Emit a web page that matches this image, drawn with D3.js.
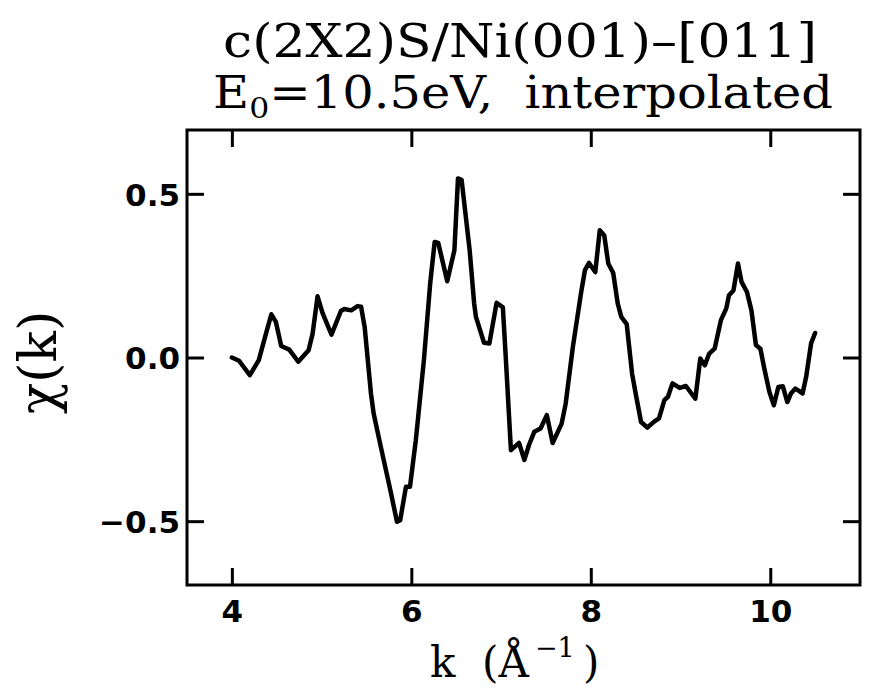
<!DOCTYPE html>
<html>
<head>
<meta charset="utf-8">
<script src="https://cdn.jsdelivr.net/npm/d3@7"></script>
<style>
    body { margin: 0; background: #fff; }
</style>
</head>
<body>
<div id="div1"></div>
<script>
//The k values (1/Angstrom).
var kValues = [4.00, 4.08, 4.20, 4.30, 4.38, 4.44, 4.49, 4.55, 4.64, 4.74,
    4.855, 4.90, 4.955, 5.01, 5.11, 5.215, 5.25, 5.33, 5.40, 5.44,
    5.48, 5.55, 5.58, 5.66, 5.77, 5.84, 5.876, 5.94, 5.985, 6.05,
    6.14, 6.21, 6.26, 6.30, 6.40, 6.48, 6.52, 6.56, 6.65, 6.70,
    6.72, 6.81, 6.87, 6.95, 7.02, 7.05, 7.11, 7.20, 7.26, 7.31,
    7.37, 7.44, 7.51, 7.575, 7.675, 7.72, 7.80, 7.89, 7.935, 7.98,
    8.05, 8.10, 8.15, 8.195, 8.25, 8.30, 8.34, 8.40, 8.46, 8.50,
    8.56, 8.63, 8.71, 8.76, 8.82, 8.86, 8.91, 8.99, 9.06, 9.165,
    9.22, 9.27, 9.32, 9.38, 9.45, 9.51, 9.54, 9.59, 9.64, 9.68,
    9.74, 9.79, 9.84, 9.89, 9.93, 9.99, 10.04, 10.09, 10.14, 10.19,
    10.23, 10.28, 10.32, 10.36, 10.40, 10.455, 10.50];

//The chi(k) values, one for each k.
var chiValues = [0.00, -0.01, -0.054, -0.008, 0.073, 0.132, 0.109, 0.035, 0.024, -0.013,
    0.022, 0.073, 0.187, 0.136, 0.070, 0.142, 0.148, 0.144, 0.157, 0.155,
    0.093, -0.110, -0.171, -0.273, -0.410, -0.502, -0.497, -0.395, -0.395, -0.253,
    -0.008, 0.226, 0.353, 0.350, 0.233, 0.328, 0.547, 0.543, 0.328, 0.165,
    0.124, 0.045, 0.043, 0.167, 0.153, 0.012, -0.283, -0.261, -0.313, -0.268,
    -0.227, -0.217, -0.176, -0.261, -0.202, -0.141, 0.032, 0.195, 0.267, 0.289,
    0.261, 0.389, 0.373, 0.287, 0.258, 0.165, 0.124, 0.102, -0.049, -0.110,
    -0.197, -0.214, -0.195, -0.186, -0.130, -0.120, -0.079, -0.093, -0.087, -0.126,
    -0.003, -0.024, 0.012, 0.027, 0.114, 0.150, 0.190, 0.205, 0.287, 0.231,
    0.200, 0.144, 0.038, 0.027, -0.029, -0.105, -0.146, -0.090, -0.088, -0.136,
    -0.110, -0.095, -0.102, -0.110, -0.059, 0.043, 0.075];

//Tick values for both axes.
var xTicks = [4, 6, 8, 10];
var yTicks = [-0.5, 0.0, 0.5];

window.onload = function () {

    var width = 882;
    var height = 689;

    //Edges of the plot frame.
    var left = 187, right = 860, top = 130, bottom = 585;

    var svg = d3.select("#div1").append("svg")
            .attr("width", width).attr("height", height);

    var x = d3.scaleLinear().domain([3.5, 11.0]).range([left, right]);
    var y = d3.scaleLinear().domain([-0.695, 0.695]).range([bottom, top]);

    var tickLen = 17;
    var serif = "'DejaVu Serif', serif";
    var sans = "'DejaVu Sans', sans-serif";

    //Ticks on all four sides, pointing inward.
    var bottomAxis = svg.append("g").attr("transform", "translate(0," + bottom + ")")
            .call(d3.axisBottom(x).tickValues(xTicks).tickSize(-tickLen).tickPadding(12)
                .tickFormat(d3.format("d")));
    var topAxis = svg.append("g").attr("transform", "translate(0," + top + ")")
            .call(d3.axisTop(x).tickValues(xTicks).tickSize(-tickLen).tickFormat(""));
    var leftAxis = svg.append("g").attr("transform", "translate(" + left + ",0)")
            .call(d3.axisLeft(y).tickValues(yTicks).tickSize(-tickLen).tickPadding(7)
                .tickFormat(d3.format(".1f")));
    var rightAxis = svg.append("g").attr("transform", "translate(" + right + ",0)")
            .call(d3.axisRight(y).tickValues(yTicks).tickSize(-tickLen).tickFormat(""));

    svg.selectAll(".domain").remove();
    svg.selectAll(".tick line").attr("stroke", "#000").attr("stroke-width", 3);
    svg.selectAll(".tick text").attr("fill", "#000")
            .style("font-family", sans).style("font-size", "31px").style("font-weight", "bold");
    bottomAxis.selectAll(".tick text").attr("dy", "0.82em");
    leftAxis.selectAll(".tick text").attr("dy", "0.36em");

    //The frame.
    svg.append("rect").attr("x", left).attr("y", top)
            .attr("width", right - left).attr("height", bottom - top)
            .attr("fill", "none").attr("stroke", "#000").attr("stroke-width", 3);

    //The curve.
    var line = d3.line()
            .x(function (d, i) { return x(kValues[i]); })
            .y(function (d) { return y(d); });

    svg.append("path").datum(chiValues)
            .attr("fill", "none").attr("stroke", "#000").attr("stroke-width", 4.5)
            .attr("stroke-linejoin", "round").attr("stroke-linecap", "round")
            .attr("d", line);

    //Title, two lines.
    svg.append("text").attr("x", 223).attr("y", 57)
            .attr("textLength", 594).attr("lengthAdjust", "spacingAndGlyphs")
            .style("font-family", serif).style("font-size", "46px")
            .text("c(2X2)S/Ni(001)\u2013[011]");

    var t2 = svg.append("text").attr("x", 213).attr("y", 108)
            .attr("textLength", 620).attr("lengthAdjust", "spacingAndGlyphs")
            .style("font-family", serif).style("font-size", "44px");
    t2.append("tspan").text("E");
    t2.append("tspan").attr("dy", 10).style("font-size", "28px").text("0");
    t2.append("tspan").attr("dy", -10).text("=10.5eV,\u00a0\u00a0interpolated");

    //Axis labels.
    var xl = svg.append("text").attr("y", 677)
            .style("font-family", serif).style("font-size", "42px");
    xl.append("tspan").attr("x", 430).text("k");
    xl.append("tspan").attr("x", 482).text("(\u00c5");
    xl.append("tspan").attr("x", 535).attr("dy", -20).style("font-size", "27px").text("\u22121");
    xl.append("tspan").attr("x", 583).attr("dy", 20).text(")");

    svg.append("text").attr("transform", "translate(56," + (y(0) + 5) + ") rotate(-90)")
            .attr("text-anchor", "middle")
            .style("font-family", serif).style("font-size", "52px")
            .text("\u03c7(k)");
};
</script>
</body>
</html>
